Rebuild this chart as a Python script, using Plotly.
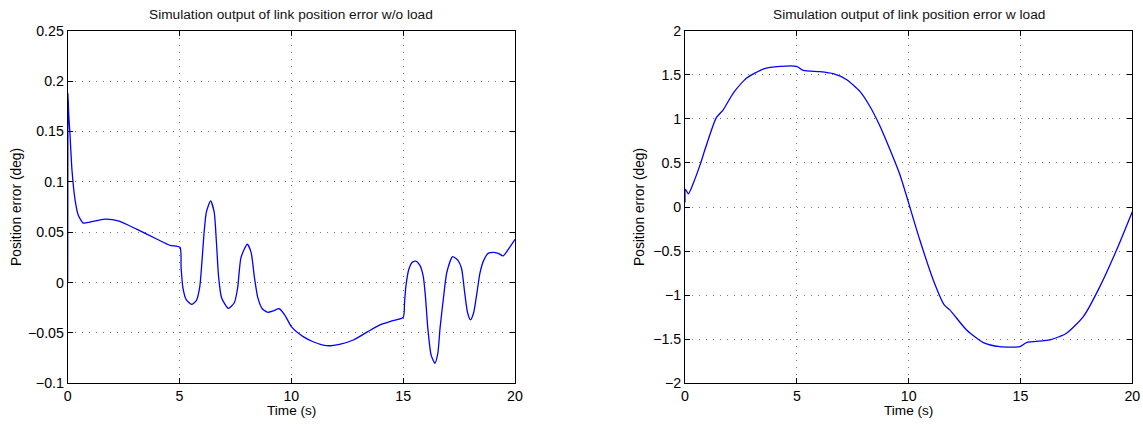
import plotly.graph_objects as go

# Left: link position error without load
t_noload = [0, 0.01, 0.05, 0.10, 0.19, 0.33, 0.47, 0.70, 1.0, 1.67, 2.3, 3.08, 4.0, 4.57, 5.02,
            5.07, 5.15, 5.3, 5.54, 5.75, 5.9, 6.0, 6.1, 6.2, 6.39, 6.55, 6.65, 6.75, 6.88, 7.18,
            7.45, 7.6, 7.75, 8.03, 8.2, 8.35, 8.5, 8.7, 8.95, 9.2, 9.46, 9.7, 10.01, 10.53, 11.0,
            11.58, 12.2, 12.77, 13.4, 13.96, 14.5, 15.0, 15.06, 15.12, 15.25, 15.4, 15.57, 15.75,
            15.9, 16.0, 16.1, 16.25, 16.42, 16.55, 16.65, 16.79, 16.95, 17.21, 17.45, 17.61, 17.75,
            17.88, 18.01, 18.15, 18.3, 18.43, 18.6, 18.8, 19.03, 19.25, 19.47, 19.7, 20.0]
e_noload = [0.0, 0.188, 0.165, 0.148, 0.112, 0.082, 0.067, 0.059, 0.060, 0.063, 0.061, 0.053, 0.043, 0.037, 0.035,
            0.015, -0.005, -0.017, -0.0216, -0.018, -0.005, 0.02, 0.05, 0.07, 0.081, 0.07, 0.04, 0.005, -0.015, -0.0256,
            -0.02, -0.005, 0.025, 0.038, 0.03, 0.005, -0.015, -0.026, -0.0295, -0.028, -0.026, -0.032, -0.044, -0.0537, -0.059,
            -0.0627, -0.061, -0.057, -0.049, -0.042, -0.038, -0.0345, -0.02, -0.004, 0.013, 0.02, 0.0213, 0.017,
            0.0058, -0.015, -0.045, -0.072, -0.0802, -0.07, -0.045, -0.0175, 0.01, 0.0257, 0.022, 0.014, -0.01,
            -0.03, -0.037, -0.03, -0.01, 0.0092, 0.022, 0.029, 0.030, 0.029, 0.0265, 0.033, 0.043]

# Right: link position error with load
t_load = [0, 0.02, 0.15, 0.37, 0.70, 0.89, 1.39, 1.71, 2.16, 2.76, 3.50, 4.25, 4.99, 5.29, 6.03,
          6.63, 7.23, 7.82, 8.27, 8.69, 9.15, 9.61, 10.5, 11.1, 11.59, 11.84, 12.59, 13.34, 14.08,
          14.98, 15.27, 16.32, 17.06, 17.81, 18.55, 19.3, 20.0]
e_load = [0.05, 0.2, 0.149, 0.27, 0.498, 0.649, 1.009, 1.103, 1.293, 1.463, 1.565, 1.595, 1.595, 1.55, 1.535,
          1.512, 1.444, 1.311, 1.14, 0.933, 0.66, 0.365, -0.375, -0.827, -1.11, -1.167, -1.395, -1.538, -1.584,
          -1.584, -1.538, -1.508, -1.432, -1.244, -0.903, -0.486, -0.053]

x_ticks = [0, 5, 10, 15, 20]
y1_ticks = [-0.1, -0.05, 0, 0.05, 0.1, 0.15, 0.2, 0.25]
y1_text = ["\u22120.1", "\u22120.05", "0", "0.05", "0.1", "0.15", "0.2", "0.25"]
y2_ticks = [-2, -1.5, -1, -0.5, 0, 0.5, 1, 1.5, 2]
y2_text = ["\u22122", "\u22121.5", "\u22121", "\u22120.5", "0", "0.5", "1", "1.5", "2"]

titles = ["Simulation output of link position error w/o load",
          "Simulation output of link position error w load"]

W, H = 1143, 424
fig = go.Figure()
fig.add_trace(go.Scatter(x=t_noload, y=e_noload, mode="lines",
                         line=dict(color="#0000ff", width=1.3, shape="spline", smoothing=0.6),
                         xaxis="x", yaxis="y", showlegend=False))
fig.add_trace(go.Scatter(x=t_load, y=e_load, mode="lines",
                         line=dict(color="#0000ff", width=1.3, shape="spline", smoothing=0.6),
                         xaxis="x2", yaxis="y2", showlegend=False))

FAM = "Liberation Sans, Arial, sans-serif"
font = dict(family=FAM, size=14.2, color="#000")
axcommon = dict(showline=True, linecolor="black", linewidth=1, mirror="ticks", ticks="inside", ticklen=5,
                tickcolor="black", showgrid=True, gridcolor="#7a7a7a", griddash="1px,6px", gridwidth=1,
                zeroline=False, tickfont=font, automargin=False)

ydom = [1 - 383.3 / H, 1 - 30.7 / H]
fig.update_layout(
    width=W, height=H, margin=dict(l=0, r=0, t=0, b=0, autoexpand=False),
    paper_bgcolor="white", plot_bgcolor="white",
    xaxis=dict(domain=[67.7 / W, 515 / W], range=[0, 20], tickvals=x_ticks, anchor="y", **axcommon),
    yaxis=dict(domain=ydom, range=[-0.1, 0.25], tickvals=y1_ticks, ticktext=y1_text, anchor="x", **axcommon),
    xaxis2=dict(domain=[685 / W, 1132.3 / W], range=[0, 20], tickvals=x_ticks, anchor="y2", **axcommon),
    yaxis2=dict(domain=ydom, range=[-2, 2], tickvals=y2_ticks, ticktext=y2_text, anchor="x2", **axcommon),
)

ann = []
for cx, title in zip([291.4, 908.6], titles):
    ann.append(dict(text=title, x=cx / W, y=1 - 15 / H, xref="paper", yref="paper", showarrow=False,
                    xanchor="center", yanchor="middle", font=dict(family=FAM, size=13.7, color="#111")))
    ann.append(dict(text="Time (s)", x=cx / W, y=1 - 410 / H, xref="paper", yref="paper", showarrow=False,
                    xanchor="center", yanchor="middle", font=dict(family=FAM, size=13.6, color="#000")))
for lx in [16, 639]:
    ann.append(dict(text="Position error (deg)", x=lx / W, y=1 - 207 / H, xref="paper", yref="paper",
                    showarrow=False, textangle=-90, xanchor="center", yanchor="middle",
                    font=dict(family=FAM, size=13.8, color="#000")))
fig.update_layout(annotations=ann)

fig.write_html("out.html", config={"displayModeBar": False},
               post_script="document.body.style.margin='0';document.body.style.overflow='hidden';")
